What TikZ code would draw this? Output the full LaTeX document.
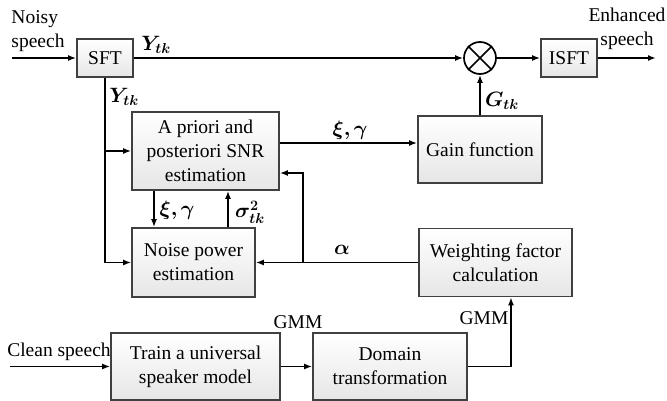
\documentclass[tikz,border=0pt]{standalone}
\usepackage{amsmath,amssymb,bm}
\usepackage{fontspec}
\setmainfont{Liberation Serif}
\usetikzlibrary{arrows.meta,positioning,calc,shapes.geometric}
\definecolor{speechEdge}{HTML}{404040}
\definecolor{speechFill}{HTML}{E6E6E6}

\begin{document}
\begin{tikzpicture}[x=1pt,y=-1pt,line width=1.7pt,
    font=\fontsize{19.5}{24}\selectfont,
    blk/.style={draw=speechEdge,top color=white,bottom color=speechFill,
                align=center,inner sep=0pt},
    arr/.style={-{Latex[length=8pt,width=6pt]}},
    lbl/.style={inner sep=0pt,align=center}]
  \useasboundingbox (0,0) rectangle (667,401);

  % blocks
  \node[blk,minimum width=56pt,minimum height=38pt] (sft) at (105,58) {SFT};
  \node[draw,circle,minimum size=32pt,inner sep=0pt] (mul) at (480,58) {};
  \draw (mul.north west) -- (mul.south east) (mul.north east) -- (mul.south west);
  \node[blk,minimum width=56pt,minimum height=38pt] (isft) at (569,58) {ISFT};
  \node[blk,minimum width=147pt,minimum height=78pt] (snr) at (205.5,151)
       {A priori and\\posteriori SNR\\estimation};
  \node[blk,minimum width=124pt,minimum height=67pt] (gain) at (480,149.5) {Gain function};
  \node[blk,minimum width=123pt,minimum height=69pt] (noise) at (193.5,262.5)
       {Noise power\\estimation};
  \node[blk,minimum width=153pt,minimum height=68pt] (wfc) at (495.5,262.5)
       {Weighting factor\\calculation};
  \node[blk,minimum width=169pt,minimum height=67pt] (train) at (195.5,366.5)
       {Train a universal\\speaker model};
  \node[blk,minimum width=154pt,minimum height=67pt] (domain) at (390,366.5)
       {Domain\\transformation};

  % free ends
  \coordinate (noisyIn) at (12,58);
  \coordinate (enhOut) at (656,58);
  \coordinate (cleanIn) at (10,366.5);
  \coordinate (fb) at (303,262.5);

  % signal path
  \draw[arr] (noisyIn) -- (sft.west);
  \draw[arr] (sft.east) -- (mul.west);
  \draw[arr] (mul.east) -- (isft.west);
  \draw[arr] (isft.east) -- (enhOut);
  \draw[arr] (gain.north) -- (mul.south);
  \draw[arr] (sft.south) |- (noise.west);
  \draw[arr] (sft.south |- snr.west) -- (snr.west);
  \draw[arr] ([yshift=8pt]snr.east) -- ([yshift=8pt]snr.east -| gain.west);
  \draw[arr] ([xshift=-51.5pt]snr.south) -- ([xshift=-51.5pt]snr.south |- noise.north);
  \draw[arr] ([xshift=22.5pt]snr.south |- noise.north) -- ([xshift=22.5pt]snr.south);
  \draw[arr] (wfc.west) -- (noise.east);
  \draw[arr] (fb) |- ([yshift=-22pt]snr.east);
  \draw[arr] (cleanIn) -- (train.west);
  \draw[arr] (train.east) -- (domain.west);
  \draw[arr] (domain.east) -| ([xshift=15.5pt]wfc.south);

  % labels
  \node[lbl,align=left] (noisyLbl) at (38,31) {Noisy\\speech};
  \node[lbl] (enhLbl) at (627,29) {Enhanced\\speech};
  \node[lbl] (cleanLbl) at (59,352) {Clean speech};
  \node[lbl] (yTop) at (156,45) {$\boldsymbol{Y_{tk}}$};
  \node[lbl] (ySide) at (124,97) {$\boldsymbol{Y_{tk}}$};
  \node[lbl] (xgTop) at (350,130) {$\boldsymbol{\xi,\gamma}$};
  \node[lbl] (gLbl) at (502,101) {$\boldsymbol{G_{tk}}$};
  \node[lbl] (xgLow) at (177,210) {$\boldsymbol{\xi,\gamma}$};
  \node[lbl] (sigLbl) at (250,212) {$\boldsymbol{\sigma_{tk}^{2}}$};
  \node[lbl] (aLbl) at (342,250) {$\boldsymbol{\alpha}$};
  \node[lbl] (gmmA) at (298,322) {GMM};
  \node[lbl] (gmmB) at (484,318) {GMM};
\end{tikzpicture}
\end{document}
